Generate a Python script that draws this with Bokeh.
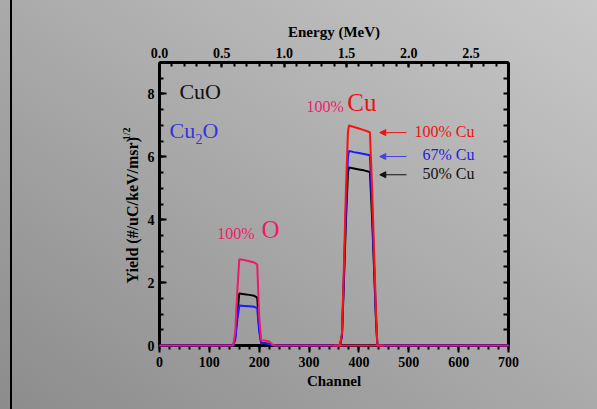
from bokeh.plotting import figure
from bokeh.models import Range1d, LinearAxis, FixedTicker, Label, Arrow, NormalHead, ColumnDataSource, Title
from bokeh.embed import file_html
from bokeh.resources import INLINE

# ---- data ----
channel = [0, 148, 152, 156, 160, 170, 180, 190, 196, 200, 204, 210, 220, 226, 232,
           362, 366, 370, 374, 378, 380, 390, 400, 410, 422, 426, 430, 434, 437, 700]
o_100 = [0, 0, 0.44, 1.7, 2.74, 2.72, 2.68, 2.64, 2.58, 0.9, 0.17, 0.16, 0.13, 0.03, 0,
         0, 0, 0, 0, 0, 0, 0, 0, 0, 0, 0, 0, 0, 0, 0]
cuo = [0, 0, 0.26, 1.0, 1.65, 1.63, 1.61, 1.58, 1.52, 0.55, 0.08, 0.07, 0.05, 0.01, 0,
       0, 0.3, 2.1, 4.0, 5.5, 5.66, 5.63, 5.6, 5.57, 5.52, 4.2, 2.6, 0.9, 0, 0]
cu2o = [0, 0, 0.2, 0.8, 1.27, 1.26, 1.25, 1.23, 1.19, 0.45, 0.07, 0.06, 0.05, 0.01, 0,
        0, 0.35, 2.3, 4.4, 6.0, 6.19, 6.15, 6.12, 6.09, 6.05, 4.6, 2.8, 1.0, 0, 0]
cu_channel = [350, 362, 366, 370, 374, 378, 380, 390, 400, 410, 422, 426, 430, 434, 437, 450]
cu_100 = [0, 0, 0.4, 2.6, 5.0, 6.8, 7.0, 6.95, 6.9, 6.85, 6.78, 5.2, 3.2, 1.2, 0, 0]

x_ticks = [0, 100, 200, 300, 400, 500, 600, 700]
y_ticks = [0, 2, 4, 6, 8]
e_ticks = [0.0, 0.5, 1.0, 1.5, 2.0, 2.5]

SERIF = "Liberation Serif"
PINK = "#f01a6a"
RED = "#ff1010"
BLUE = "#1a1aff"

p = figure(width=597, height=409, output_backend="svg", toolbar_location=None,
           x_range=Range1d(0, 700), y_range=Range1d(0, 9),
           min_border_left=159, min_border_right=89, min_border_top=62, min_border_bottom=64,
           x_axis_location=None, y_axis_location=None)
p.extra_x_ranges = {"energy": Range1d(0, 2.8)}
p.border_fill_color = None
p.background_fill_color = None
p.outline_line_color = None
p.grid.visible = False
p.styles = {
    "background-image": "linear-gradient(to right, transparent 10px, #000 10px, #000 12px, transparent 12px),"
                        " linear-gradient(to top right, #8c8c8c, #c8c8c8)",
}


def style_axis(ax, size="14px"):
    ax.axis_line_width = 3
    ax.axis_line_color = "black"
    ax.major_tick_line_width = 2
    ax.minor_tick_line_width = 2
    ax.major_label_text_font = SERIF
    ax.major_label_text_font_style = "bold"
    ax.major_label_text_font_size = size
    ax.major_label_text_color = "black"
    ax.axis_label_text_font = SERIF
    ax.axis_label_text_font_style = "bold"
    ax.axis_label_text_font_size = "15px"
    ax.axis_label_text_color = "black"


bottom = LinearAxis(ticker=FixedTicker(ticks=x_ticks, minor_ticks=list(range(0, 701, 20))),
                    axis_label="Channel")
style_axis(bottom)
bottom.major_tick_in = 0
bottom.major_tick_out = 7
bottom.minor_tick_in = 0
bottom.minor_tick_out = 4
bottom.major_label_standoff = 4
bottom.axis_label_standoff = 3
p.add_layout(bottom, "below")

top = LinearAxis(x_range_name="energy",
                 ticker=FixedTicker(ticks=e_ticks, minor_ticks=[i / 10 for i in range(0, 29)]),
                 axis_label="Energy (MeV)")
style_axis(top)
top.major_tick_in = 5
top.major_tick_out = 0
top.minor_tick_in = 4
top.minor_tick_out = 0
top.major_label_standoff = 5
top.axis_label_standoff = 5
top.major_label_overrides = {t: f"{t:.1f}" for t in e_ticks}
p.add_layout(top, "above")

left = LinearAxis(ticker=FixedTicker(ticks=y_ticks, minor_ticks=[i / 2 for i in range(0, 19)]))
style_axis(left)
left.major_tick_in = 7
left.major_tick_out = 0
left.minor_tick_in = 4
left.minor_tick_out = 0
left.major_label_standoff = 5
p.add_layout(left, "left")

# y-axis title with a superscript, as two stacked side titles
p.add_layout(Title(text="Yield (#/uC/keV/msr)", align="left", offset=62, standoff=8,
                   text_font=SERIF, text_font_size="16px", text_font_style="bold",
                   text_color="black"), "left")
p.add_layout(Title(text="1/2", align="right", offset=65, standoff=-28,
                   text_font=SERIF, text_font_size="10px", text_font_style="bold",
                   text_color="black"), "left")

right = LinearAxis(ticker=FixedTicker(ticks=[], minor_ticks=[i / 2 for i in range(0, 19)]))
style_axis(right)
right.major_tick_in = 7
right.major_tick_out = 0
right.minor_tick_in = 5
right.minor_tick_out = 0
p.add_layout(right, "right")

src = ColumnDataSource(dict(ch=channel, o=o_100, cuo=cuo, cu2o=cu2o))
src_cu = ColumnDataSource(dict(ch=cu_channel, cu=cu_100))
p.line("ch", "cuo", source=src, line_color="black", line_width=2, level="annotation")
p.line("ch", "cu2o", source=src, line_color=BLUE, line_width=2, level="annotation")
p.line("ch", "cu", source=src_cu, line_color=RED, line_width=2, level="annotation")
p.line("ch", "o", source=src, line_color=PINK, line_width=2, level="annotation")


def lab(text, x, y, size, color, align="left", x_offset=0, y_offset=0):
    px = int(size.replace("px", ""))
    p.add_layout(Label(text=text, x=x, y=y, text_font=SERIF, text_font_size=size,
                       text_color=color, text_align=align, text_baseline="alphabetic",
                       x_offset=x_offset, y_offset=y_offset + round(0.38 * px)))


# sample labels
lab("CuO", 40, 7.74, "22px", "#111111", y_offset=3)
lab("Cu", 20, 6.57, "22px", "#3434dd")
lab("2", 20, 6.57, "14px", "#3434dd", y_offset=-5, x_offset=26)
lab("O", 20, 6.57, "22px", "#3434dd", x_offset=33)

lab("100%", 115.7, 3.37, "16px", PINK)
lab("O", 204.6, 3.37, "25px", PINK)
lab("100%", 294.8, 7.42, "16px", PINK)
lab("Cu", 376.5, 7.42, "25px", "#ee1111")

lab("100% Cu", 631.8, 6.63, "16px", "#ee1111", align="right")
lab("67% Cu", 631.8, 5.88, "16px", "#2222dd", align="right")
lab("50% Cu", 631.8, 5.28, "16px", "#111111", align="right")

for yy, col in [(6.77, "#ee1111"), (6.01, "#4444dd"), (5.43, "#111111")]:
    p.add_layout(Arrow(end=NormalHead(size=6, fill_color=col, line_color=col),
                       x_start=495.4, y_start=yy, x_end=441.8, y_end=yy,
                       line_color=col, line_width=1))

open("out.html", "w").write(file_html(p, INLINE))
